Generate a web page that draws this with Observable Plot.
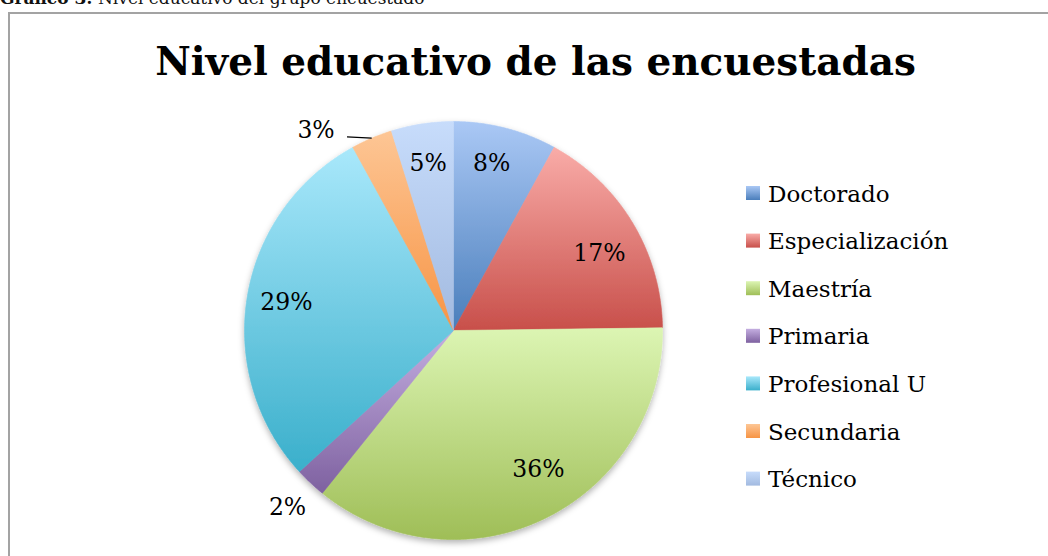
<!DOCTYPE html>
<html>
<head>
<meta charset="utf-8">
<script src="https://cdn.jsdelivr.net/npm/d3@7"></script>
<script src="https://cdn.jsdelivr.net/npm/@observablehq/plot@0.6"></script>
<style>
html, body { margin: 0; padding: 0; background: #fff; overflow: hidden; width: 1048px; height: 556px; }
#chart { position: absolute; left: 0; top: 0; }
</style>
</head>
<body>
<div id="chart"></div>
<script>
// ---- data ----
const categories = ["Doctorado", "Especialización", "Maestría", "Primaria", "Profesional U", "Secundaria", "Técnico"];
const counts = [10, 21, 45, 3, 36, 4, 6]; // (shown as 8%, 17%, 36%, 2%, 29%, 3%, 5%)
const title = "Nivel educativo de las encuestadas";
const captionBold = "Gráfico 3:";
const captionText = " Nivel educativo del grupo encuestado";

// ---- styles ----
const colorTop = ["#aac8f5", "#f9aca8", "#dcf5b3", "#c4aee0", "#a9e8fb", "#fdc695", "#c7dcfb"];
const colorBottom = ["#4a7ebb", "#c84f4a", "#9fbe57", "#7e61a0", "#3aafcb", "#f79444", "#a2bae0"];
const serif = "'DejaVu Serif', 'Liberation Serif', serif";
const W = 1048, H = 556;
const cx = 453, cy = 330, R = 209;

// ---- geometry from data ----
const total = d3.sum(counts);
const arcs = d3.pie().sort(null).value(d => d)(counts);
const deg = Math.PI / 180;

const wedgePoints = [];
arcs.forEach((a, i) => {
  const n = Math.max(2, Math.ceil((a.endAngle - a.startAngle) / (0.4 * deg)));
  wedgePoints.push({name: categories[i], i, x: 0, y: 0});
  for (let k = 0; k <= n; k++) {
    const t = a.startAngle + (a.endAngle - a.startAngle) * k / n;
    wedgePoints.push({name: categories[i], i, x: Math.sin(t), y: Math.cos(t)});
  }
  wedgePoints.push({name: categories[i], i, x: 0, y: 0});
});

// label placement rules (positions computed, not stored in data)
const labelPlacement = {
  "Doctorado": {k: 0.82, shift: -1.5},
  "Especialización": {k: 0.79, shift: 3},
  "Maestría": {k: 0.78, shift: -5.5},
  "Secundaria": {k: 1.16, shift: -11.5}
};
const labels = arcs.map((a, i) => {
  const pct = Math.round(counts[i] / total * 100);
  const mid = (a.startAngle + a.endAngle) / 2;
  const outside = pct < 5;
  const p = labelPlacement[categories[i]] || {k: outside ? 1.16 : 0.81, shift: 0};
  const ang = mid + p.shift * deg;
  return {name: categories[i], pct, mid, outside, x: p.k * Math.sin(ang), y: p.k * Math.cos(ang), text: pct + "%"};
});
const leaders = labels.filter(d => d.name === "Secundaria").map(d => ({
  x1: d.x + 31 / R, y1: d.y - 6 / R,
  x2: Math.sin(d.mid), y2: Math.cos(d.mid)
}));

const plot = Plot.plot({
  width: W,
  height: H,
  margin: 0,
  x: {domain: [-1, 1], range: [cx - R, cx + R], axis: null},
  y: {domain: [-1, 1], range: [cy + R, cy - R], axis: null},
  color: {type: "identity"},
  style: {background: "transparent", overflow: "visible"},
  marks: [
    Plot.line(wedgePoints, {
      x: "x", y: "y", z: "name",
      fill: d => `url(#grad${d.i})`,
      stroke: d => `url(#grad${d.i})`,
      strokeWidth: 0.6,
      curve: "linear"
    }),
    Plot.link(leaders, {x1: "x1", y1: "y1", x2: "x2", y2: "y2", stroke: "black", strokeWidth: 1.3}),
    Plot.text(labels, {
      x: "x", y: "y", text: "text",
      fontSize: 23.5, fontFamily: serif, fill: "black"
    })
  ]
});

const svg = d3.select(plot);
const defs = svg.insert("defs", ":first-child");
categories.forEach((c, i) => {
  const g = defs.append("linearGradient").attr("id", "grad" + i)
    .attr("x1", 0).attr("y1", 0).attr("x2", 0).attr("y2", 1);
  g.append("stop").attr("offset", "0%").attr("stop-color", colorTop[i]);
  g.append("stop").attr("offset", "100%").attr("stop-color", colorBottom[i]);
});
const f = defs.append("filter").attr("id", "shadow")
  .attr("x", "-10%").attr("y", "-10%").attr("width", "120%").attr("height", "125%");
f.append("feDropShadow").attr("dx", 0).attr("dy", 3).attr("stdDeviation", 3)
  .attr("flood-color", "#000").attr("flood-opacity", 0.3);
svg.select("g[aria-label='line']").attr("filter", "url(#shadow)");

// frame
svg.insert("rect", "defs + *")
  .attr("x", 9).attr("y", 13).attr("width", 1100).attr("height", 600)
  .attr("fill", "none").attr("stroke", "#a3a3a3").attr("stroke-width", 2);

// caption (cut off at the top edge, as in the reference)
const cap = svg.append("text").attr("x", 0).attr("y", 4)
  .attr("text-anchor", "start")
  .attr("font-family", serif).attr("font-size", 17).attr("fill", "#111");
cap.append("tspan").attr("font-weight", "bold").text(captionBold);
cap.append("tspan").text(captionText);

// title sized to match reference width
const ctx = document.createElement("canvas").getContext("2d");
ctx.font = `bold 100px ${serif}`;
const tw = ctx.measureText(title).width;
const tSize = Math.min(40, 100 * 761 / tw);
svg.append("text").attr("x", 535.5).attr("y", 75)
  .attr("text-anchor", "middle").attr("font-family", serif)
  .attr("font-weight", "bold").attr("font-size", tSize).attr("fill", "#000")
  .text(title);

// legend
const lg = svg.append("g").attr("aria-label", "legend").attr("text-anchor", "start");
categories.forEach((c, i) => {
  const yc = 193 + i * 47.6;
  const lgId = "lgrad" + i;
  const g = defs.append("linearGradient").attr("id", lgId)
    .attr("x1", 0).attr("y1", 0).attr("x2", 0).attr("y2", 1);
  g.append("stop").attr("offset", "0%").attr("stop-color", colorTop[i]);
  g.append("stop").attr("offset", "100%").attr("stop-color", colorBottom[i]);
  lg.append("rect").attr("x", 746).attr("y", yc - 7).attr("width", 14).attr("height", 14)
    .attr("fill", `url(#${lgId})`);
  lg.append("text").attr("x", 768).attr("y", yc + 8.5).attr("text-anchor", "start")
    .attr("font-family", serif).attr("font-size", 23).attr("fill", "#000").text(c);
});

document.getElementById("chart").appendChild(plot);
</script>
</body>
</html>
